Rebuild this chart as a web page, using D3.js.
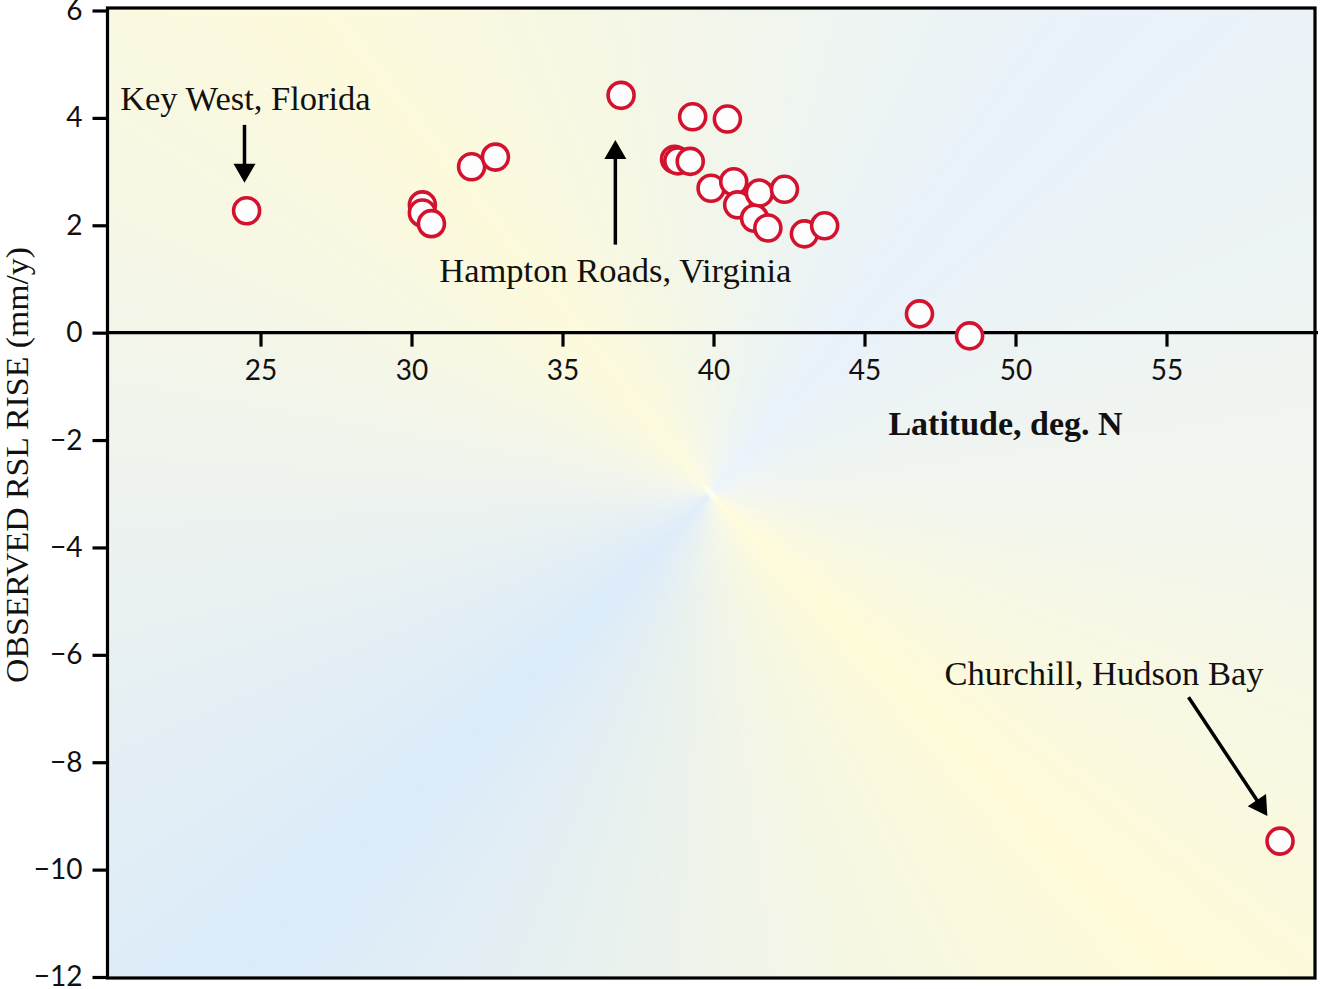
<!DOCTYPE html>
<html>
<head>
<meta charset="utf-8">
<script src="https://cdn.jsdelivr.net/npm/d3@7"></script>
<style>
  html, body { margin: 0; padding: 0; background: #ffffff; }
  svg { display: block; }
</style>
</head>
<body>
<svg id="chart" width="1320" height="989"></svg>
<script>
// ---------------- data ----------------
const latitude = [24.54, 30.36, 30.36, 30.66, 31.99, 32.78, 36.94, 39.31, 40.46, 38.71, 38.82, 39.23,
                  39.92, 40.67, 40.80, 41.52, 41.36, 41.80, 42.35, 43.01, 43.68, 46.82, 48.48, 58.76];
const rslRise  = [2.27, 2.38, 2.23, 2.03, 3.09, 3.27, 4.42, 4.02, 3.98, 3.23, 3.20, 3.19,
                  2.69, 2.81, 2.38, 2.60, 2.13, 1.95, 2.67, 1.84, 1.99, 0.35, -0.06, -9.47];
const xTickValues = [25, 30, 35, 40, 45, 50, 55];
const yTickValues = [6, 4, 2, 0, -2, -4, -6, -8, -10, -12];
const annotationLabels = ["Key West, Florida", "Hampton Roads, Virginia", "Churchill, Hudson Bay"];
const annotationLabelLat = [24.5, 36.75, 52.93];
const annotationLabelVal = [4.15, 0.945, -6.56];
const arrowFromLat = [24.47, 36.75, 55.73];
const arrowFromVal = [3.87, 1.64, -6.79];
const arrowToLat   = [24.47, 36.75, 58.34];
const arrowToVal   = [2.79, 3.59, -9.0];
const xTitle = "Latitude, deg. N";
const yTitle = "OBSERVED RSL RISE (mm/y)";

// ---------------- layout ----------------
const svg = d3.select("#chart");
const frame = {left: 107.5, right: 1315, top: 8, bottom: 978};
const x = d3.scaleLinear().domain([20, 60]).range([109.5, 1317.5]);
const y = d3.scaleLinear().domain([-12, 6]).range([977, 10.5]);

const serif = "'Liberation Serif', 'Times New Roman', serif";
const tickFont = "'Lato', 'Open Sans', sans-serif";

// ---------------- background (conic gradient) ----------------
const defs = svg.append("defs");
defs.append("clipPath").attr("id", "plotClip")
  .append("rect")
  .attr("x", frame.left).attr("y", frame.top)
  .attr("width", frame.right - frame.left).attr("height", frame.bottom - frame.top);

const stopAngles = [0, 40, 90, 135, 180, 224, 270, 320, 360];
const stopColors = ["#f2f6ea", "#e9f2fb", "#f1f5ee", "#fffbd9", "#eff4ea",
                    "#dbebfa", "#eef3ef", "#fdfadc", "#f2f6ea"];
const colorAt = d3.scaleLinear().domain(stopAngles).range(stopColors).interpolate(d3.interpolateRgb);
const center = [x(39.9), y(-3.0)];
const wedges = d3.range(0, 360, 0.5);
const arc = d3.arc().innerRadius(0).outerRadius(1400);
svg.append("g").attr("clip-path", "url(#plotClip)")
  .append("g")
  .attr("transform", `translate(${center[0]},${center[1]})`)
  .selectAll("path").data(wedges).join("path")
  .attr("d", a => arc({startAngle: a * Math.PI / 180, endAngle: (a + 0.8) * Math.PI / 180}))
  .attr("fill", a => colorAt(a + 0.25))
  .attr("stroke", "none");

// ---------------- axes ----------------
const fmt = d => d < 0 ? "\u2212" + Math.abs(d) : String(d);

const yAxis = svg.append("g")
  .attr("transform", `translate(${frame.left},0)`)
  .call(d3.axisLeft(y).tickValues(yTickValues).tickSize(15).tickPadding(10).tickFormat(fmt));
yAxis.select(".domain").remove();
yAxis.selectAll(".tick line").attr("stroke", "#000").attr("stroke-width", 3.2);
yAxis.selectAll(".tick text").attr("fill", "#111").style("font-family", tickFont).style("font-size", "28px");

const xAxis = svg.append("g")
  .attr("transform", `translate(0,${y(0)})`)
  .call(d3.axisBottom(x).tickValues(xTickValues).tickSize(14).tickPadding(13).tickFormat(fmt));
xAxis.select(".domain").remove();
xAxis.selectAll(".tick line").attr("stroke", "#000").attr("stroke-width", 3.2);
xAxis.selectAll(".tick text").attr("fill", "#111").style("font-family", tickFont).style("font-size", "28px");

// zero line
svg.append("line")
  .attr("x1", frame.left).attr("x2", frame.right + 3)
  .attr("y1", y(0)).attr("y2", y(0))
  .attr("stroke", "#000").attr("stroke-width", 3.2);

// frame
svg.append("rect")
  .attr("x", frame.left).attr("y", frame.top)
  .attr("width", frame.right - frame.left).attr("height", frame.bottom - frame.top)
  .attr("fill", "none").attr("stroke", "#000").attr("stroke-width", 3.2);

// axis titles
svg.append("text")
  .attr("x", x(49.67)).attr("y", y(-1.91))
  .attr("text-anchor", "middle")
  .style("font-family", serif).style("font-size", "34px").style("font-weight", "bold")
  .attr("fill", "#111")
  .text(xTitle);

svg.append("text")
  .attr("transform", `translate(28,${(245 + 685) / 2}) rotate(-90)`)
  .attr("text-anchor", "middle")
  .attr("textLength", 436).attr("lengthAdjust", "spacingAndGlyphs")
  .style("font-family", serif).style("font-size", "31px")
  .attr("fill", "#111")
  .text(yTitle);

// ---------------- annotations ----------------
const ann = annotationLabels.map((t, i) => ({
  text: t,
  lx: x(annotationLabelLat[i]), ly: y(annotationLabelVal[i]),
  x1: x(arrowFromLat[i]), y1: y(arrowFromVal[i]),
  x2: x(arrowToLat[i]), y2: y(arrowToVal[i])
}));

const annG = svg.append("g");
annG.selectAll("text").data(ann).join("text")
  .attr("x", d => d.lx).attr("y", d => d.ly)
  .attr("text-anchor", "middle")
  .style("font-family", serif).style("font-size", "34.5px")
  .attr("fill", "#111")
  .text(d => d.text);

const headLen = 19, headHalf = 11;
annG.selectAll("line").data(ann).join("line")
  .attr("x1", d => d.x1).attr("y1", d => d.y1)
  .attr("x2", d => {
    const dx = d.x2 - d.x1, dy = d.y2 - d.y1, L = Math.hypot(dx, dy);
    return d.x2 - dx / L * (headLen - 2);
  })
  .attr("y2", d => {
    const dx = d.x2 - d.x1, dy = d.y2 - d.y1, L = Math.hypot(dx, dy);
    return d.y2 - dy / L * (headLen - 2);
  })
  .attr("stroke", "#000").attr("stroke-width", 3.5);

annG.selectAll("path").data(ann).join("path")
  .attr("d", d => {
    const dx = d.x2 - d.x1, dy = d.y2 - d.y1, L = Math.hypot(dx, dy);
    const ux = dx / L, uy = dy / L;
    const bx = d.x2 - ux * headLen, by = d.y2 - uy * headLen;
    const px = -uy, py = ux;
    return d3.line()([[d.x2, d.y2], [bx + px * headHalf, by + py * headHalf], [bx - px * headHalf, by - py * headHalf]]) + "Z";
  })
  .attr("fill", "#000");

// ---------------- points ----------------
const points = latitude.map((lat, i) => ({lat, val: rslRise[i]}));
svg.append("g").selectAll("circle").data(points).join("circle")
  .attr("cx", d => x(d.lat)).attr("cy", d => y(d.val))
  .attr("r", 13)
  .attr("fill", "#fdfdfd")
  .attr("stroke", "#d3122e")
  .attr("stroke-width", 3.6);
</script>
</body>
</html>
